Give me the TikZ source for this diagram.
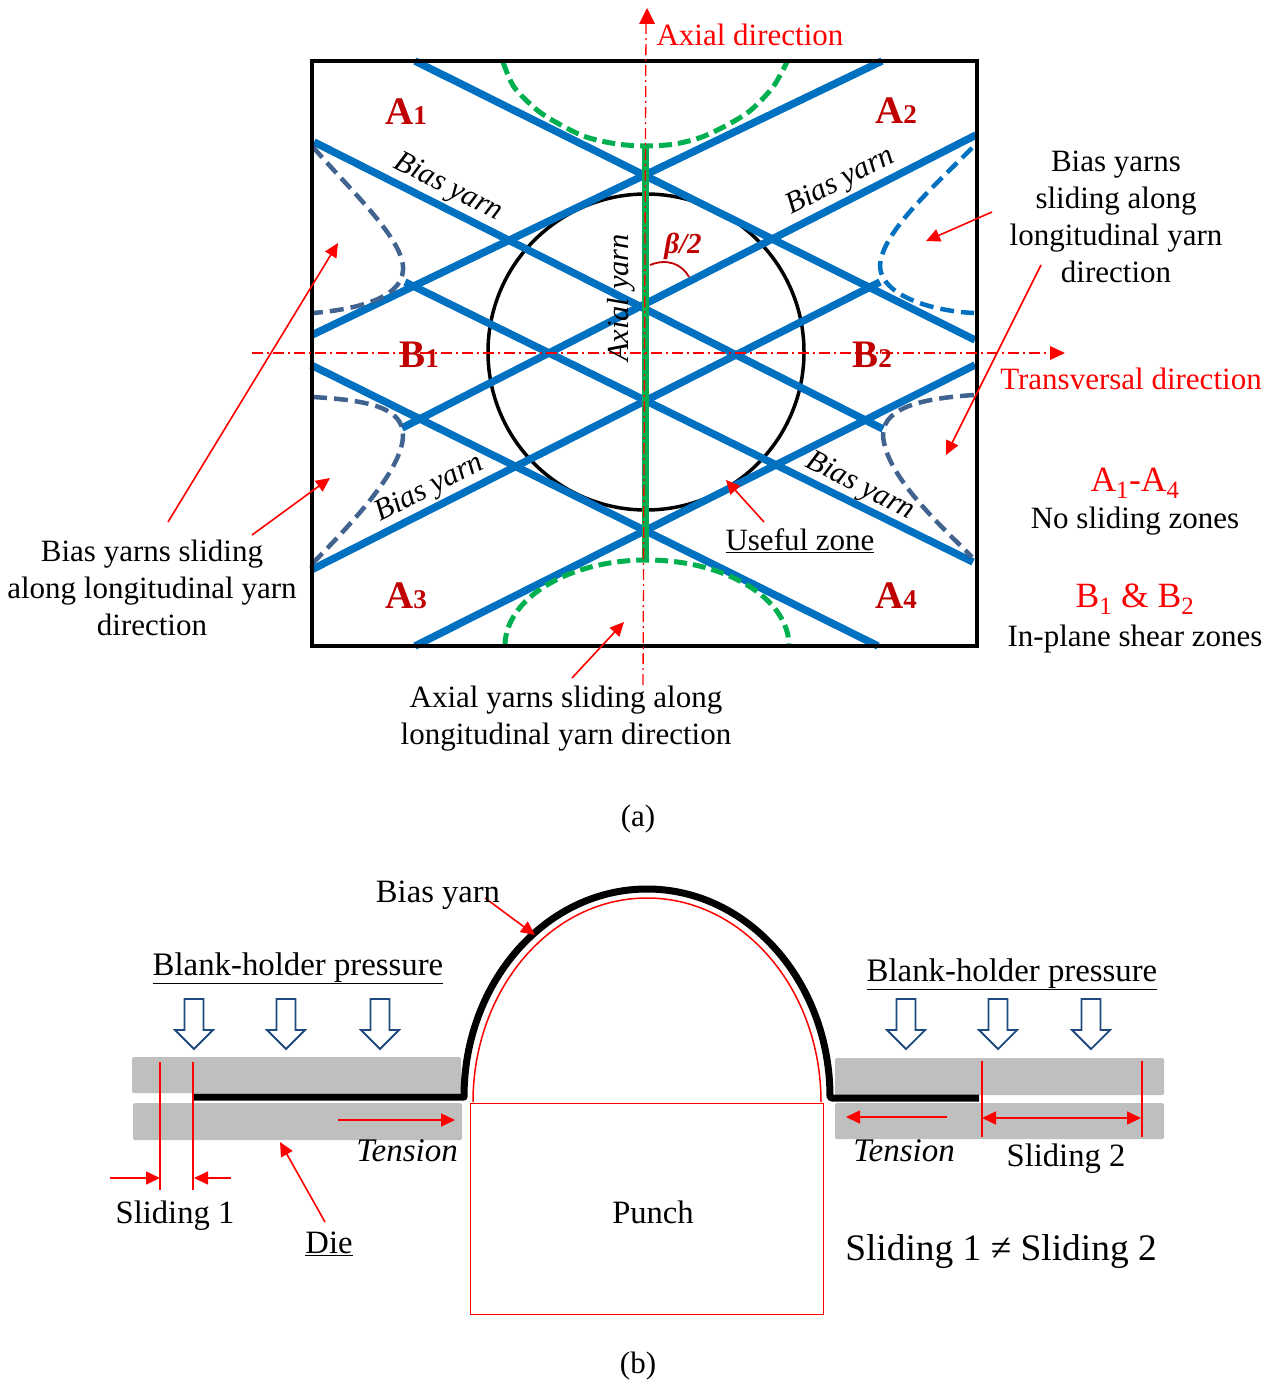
\documentclass[tikz,border=0pt]{standalone}
\usepackage{fontspec}
\setmainfont{Liberation Serif}
\usetikzlibrary{arrows.meta}
\definecolor{yarnblue}{HTML}{0070C0}
\definecolor{yarngreen}{HTML}{00B050}
\definecolor{slateblue}{HTML}{41638F}
\definecolor{navy}{HTML}{1F497D}
\definecolor{darkred}{HTML}{C00000}
\definecolor{diegray}{HTML}{BFBFBF}
\tikzset{
  txt/.style={inner sep=0pt,outer sep=0pt,font=\fontsize{31}{37}\selectfont,anchor=base,text=black},
  big/.style={txt,font=\fontsize{32.6}{37}\selectfont},
  multi/.style={inner sep=0pt,outer sep=0pt,font=\fontsize{31}{37}\selectfont,anchor=center,align=center},
  redtxt/.style={txt,text=red},
  redbig/.style={txt,text=red,font=\fontsize{35.5}{38}\selectfont},
  zone/.style={inner sep=0pt,outer sep=0pt,anchor=base,text=darkred,font=\fontsize{39}{40}\selectfont\bfseries},
  yarnlabel/.style={inner sep=0pt,outer sep=0pt,anchor=center,font=\fontsize{30.5}{36}\selectfont\itshape},
  blue yarn/.style={draw=yarnblue,line width=7.5pt},
  green dash/.style={draw=yarngreen,line width=5pt,dash pattern=on 13pt off 6pt},
  side dash/.style={draw=slateblue,line width=4.5pt,dash pattern=on 14pt off 7pt},
  axis line/.style={draw=red,line width=1.3pt,dash pattern=on 11pt off 4pt on 2pt off 4pt},
  redarrow/.style={draw=red,line width=1.6pt,-{Triangle[length=14pt,width=13pt]}},
  redline/.style={draw=red,line width=1.6pt},
  die/.style={fill=diegray,rounded corners=1.5pt,draw=none},
  press/.style={draw=navy,line width=1.8pt,fill=white,line join=miter},
}
\newcommand{\zn}[2]{#1{\fontsize{27}{30}\selectfont #2}}
\newcommand{\pressarrow}[1]{%
  \draw[press] (#1-9.5,999) -- (#1+9.5,999) -- (#1+9.5,1030) -- (#1+19,1030) -- (#1,1049) -- (#1-19,1030) -- (#1-9.5,1030) -- cycle;}
\newcommand{\arw}[3]{%
  \coordinate (#1s) at (#2); \coordinate (#1e) at (#3);
  \draw[redarrow] (#1s) -- (#1e);}
\begin{document}
\begin{tikzpicture}[x=1pt,y=-1pt]
\useasboundingbox (0,0) rectangle (1274,1380);
% ---------- (a)
\draw[black,line width=3.5pt] (646,352) circle[radius=158pt];
\draw[blue yarn] (415,61) -- (975,340);
\draw[blue yarn] (882,61) -- (312,335);
\draw[blue yarn] (314,142) -- (883,429);
\draw[blue yarn] (976,135) -- (402,428);
\draw[blue yarn] (311,365) -- (878,646);
\draw[blue yarn] (975,365) -- (415,646);
\draw[blue yarn] (405,282) -- (973,562);
\draw[blue yarn] (880,282) -- (311,570);
% green arcs
\draw[green dash] plot[smooth] coordinates {(503,62) (514,87) (537,110) (559,124) (586,137) (617,144) (646,146) (675,144) (702,137) (729,124) (751,110) (773,87) (787,62)};
\draw[green dash] (505,646) arc[start angle=180,end angle=0,x radius=142pt,y radius=86pt];
% side curves
\draw[side dash] (313,147) .. controls (350,190) and (405,240) .. (403,270) .. controls (402,300) and (350,310) .. (313,313);
\draw[side dash,draw=yarnblue] (972,148) .. controls (930,190) and (880,235) .. (880,267) .. controls (882,295) and (930,311) .. (974,313);
\draw[side dash] (313,397) .. controls (360,400) and (403,405) .. (403,435) .. controls (403,470) and (350,525) .. (313,563);
\draw[side dash] (974,395) .. controls (930,398) and (883,405) .. (883,435) .. controls (885,475) and (940,525) .. (972,557);
% frame
\draw[black,line width=3.5pt,line join=miter] (312,61) rectangle (977,646);
% axial yarn
\draw[yarngreen,line width=7pt] (645,145) -- (645,561);
% axes
\coordinate (axv0) at (643,685); \coordinate (axv1) at (647,8);
\coordinate (axh0) at (252,353); \coordinate (axh1) at (1065,353);
\draw[axis line] (axv0) -- (646,23);
\fill[red] (axv1) -- (655,24) -- (639,24) -- cycle;
\draw[axis line] (axh0) -- (1051,353);
\fill[red] (axh1) -- (1050,346) -- (1050,360) -- cycle;
% angle
\coordinate (ang0) at (650,265); \coordinate (ang1) at (689,277);
\draw[draw=darkred,line width=1.8pt] (ang0) .. controls (667,258) and (682,264) .. (ang1);
% arrows
\arw{a1}{992,212}{926,241}
\arw{a2}{1041,265}{946,455}
\arw{a3}{168,522}{338,243}
\arw{a4}{252,535}{330,478}
\arw{a5}{572,678}{624,622}
\arw{a6}{764,522}{726,480}
% labels
\node[redtxt] (axdir) at (750,46) {Axial direction};
\node[redtxt] (trdir) at (1131,389) {Transversal direction};
\node[zone] (A1) at (406,125) {\zn{A}{1}};
\node[zone] (A2) at (896,124) {\zn{A}{2}};
\node[zone] (A3) at (406,608) {\zn{A}{3}};
\node[zone] (A4) at (896,608) {\zn{A}{4}};
\node[zone] (B1) at (419,367) {\zn{B}{1}};
\node[zone] (B2) at (872,367) {\zn{B}{2}};
\node[yarnlabel,rotate=-27] (by1) at (448,188) {Bias yarn};
\node[yarnlabel,rotate=27] (by2) at (841,182) {Bias yarn};
\node[yarnlabel,rotate=27] (by3) at (430,489) {Bias yarn};
\node[yarnlabel,rotate=-27] (by4) at (860,487) {Bias yarn};
\node[yarnlabel,rotate=90] (ay) at (621,298) {Axial yarn};
\node[inner sep=0pt,text=darkred,font=\fontsize{29}{30}\selectfont\bfseries\itshape] (beta) at (683,246) {β/2};
\node[multi] (t1) at (1116,217) {Bias yarns\\sliding along\\longitudinal yarn\\direction};
\node[multi] (t2) at (152,588) {Bias yarns sliding\\along longitudinal yarn\\direction};
\node[multi] (t3) at (566,719) {Axial yarns sliding along\\longitudinal yarn direction};
\node[txt] (uz) at (800,550) {\underline{Useful zone}};
\node[redbig] (az) at (1135,491) {A\textsubscript{1}-A\textsubscript{4}};
\node[txt] (nz) at (1135,528) {No sliding zones};
\node[redbig] (bz) at (1135,607) {B\textsubscript{1} \& B\textsubscript{2}};
\node[txt] (sz) at (1135,646) {In-plane shear zones};
\node[txt] (capa) at (638,826) {(a)};
% ---------- (b)
\path[die] (132,1057) rectangle (461,1093);
\path[die] (133,1103) rectangle (462,1140);
\path[die] (835,1058) rectangle (1164,1095);
\path[die] (835,1103) rectangle (1164,1139);
% punch
\draw[red,line width=1pt] (470,1103) rectangle (823,1314);
\draw[red,line width=1.5pt] (473,1102) arc[start angle=180,end angle=0,x radius=174pt,y radius=204pt];
% yarn
\draw[black,line width=7pt,line join=round] (193,1097) -- (464,1097) arc[start angle=180,end angle=0,x radius=183pt,y radius=208pt] -- (832,1098) -- (979,1098);
% pressure arrows
\pressarrow{194}
\pressarrow{286}
\pressarrow{380}
\pressarrow{906}
\pressarrow{998}
\pressarrow{1091}
% sliding marks
\coordinate (s1a) at (160,1062); \coordinate (s1b) at (160,1190);
\coordinate (s2a) at (193,1062); \coordinate (s2b) at (193,1190);
\coordinate (s3a) at (982,1061); \coordinate (s3b) at (982,1137);
\coordinate (s4a) at (1142,1061); \coordinate (s4b) at (1142,1137);
\draw[redline] (s1a) -- (s1b);
\draw[redline] (s2a) -- (s2b);
\draw[redline] (s3a) -- (s3b);
\draw[redline] (s4a) -- (s4b);
\arw{b1}{485,898}{535,935}
\arw{b2}{325,1222}{280,1142}
\arw{b3}{338,1120}{455,1120}
\arw{b4}{947,1117}{846,1117}
\arw{b5}{110,1178}{160,1178}
\arw{b6}{231,1178}{194,1178}
\coordinate (b7s) at (982,1118); \coordinate (b7e) at (1141,1118);
\draw[redline,{Triangle[length=14pt,width=13pt]}-{Triangle[length=14pt,width=13pt]}] (b7s) -- (b7e);
% texts
\node[big] (byb) at (438,902) {Bias yarn};
\node[txt,font=\fontsize{32.8}{36}\selectfont] (bh1) at (298,975) {\underline{Blank-holder pressure}};
\node[txt,font=\fontsize{32.8}{36}\selectfont] (bh2) at (1012,981) {\underline{Blank-holder pressure}};
\node[txt,font=\fontsize{33}{36}\selectfont\itshape] (ten1) at (407,1161) {Tension};
\node[txt,font=\fontsize{33}{36}\selectfont\itshape] (ten2) at (904,1161) {Tension};
\node[big] (sl2) at (1066,1166) {Sliding 2};
\node[big] (sl1) at (175,1223) {Sliding 1};
\node[big] (dietxt) at (329,1253) {\underline{Die}};
\node[big] (punch) at (653,1223) {Punch};
\node[txt,font=\fontsize{37.4}{40}\selectfont] (neq) at (1001,1260) {Sliding 1 ≠ Sliding 2};
\node[txt] (capb) at (638,1373) {(b)};
\end{tikzpicture}
\end{document}
